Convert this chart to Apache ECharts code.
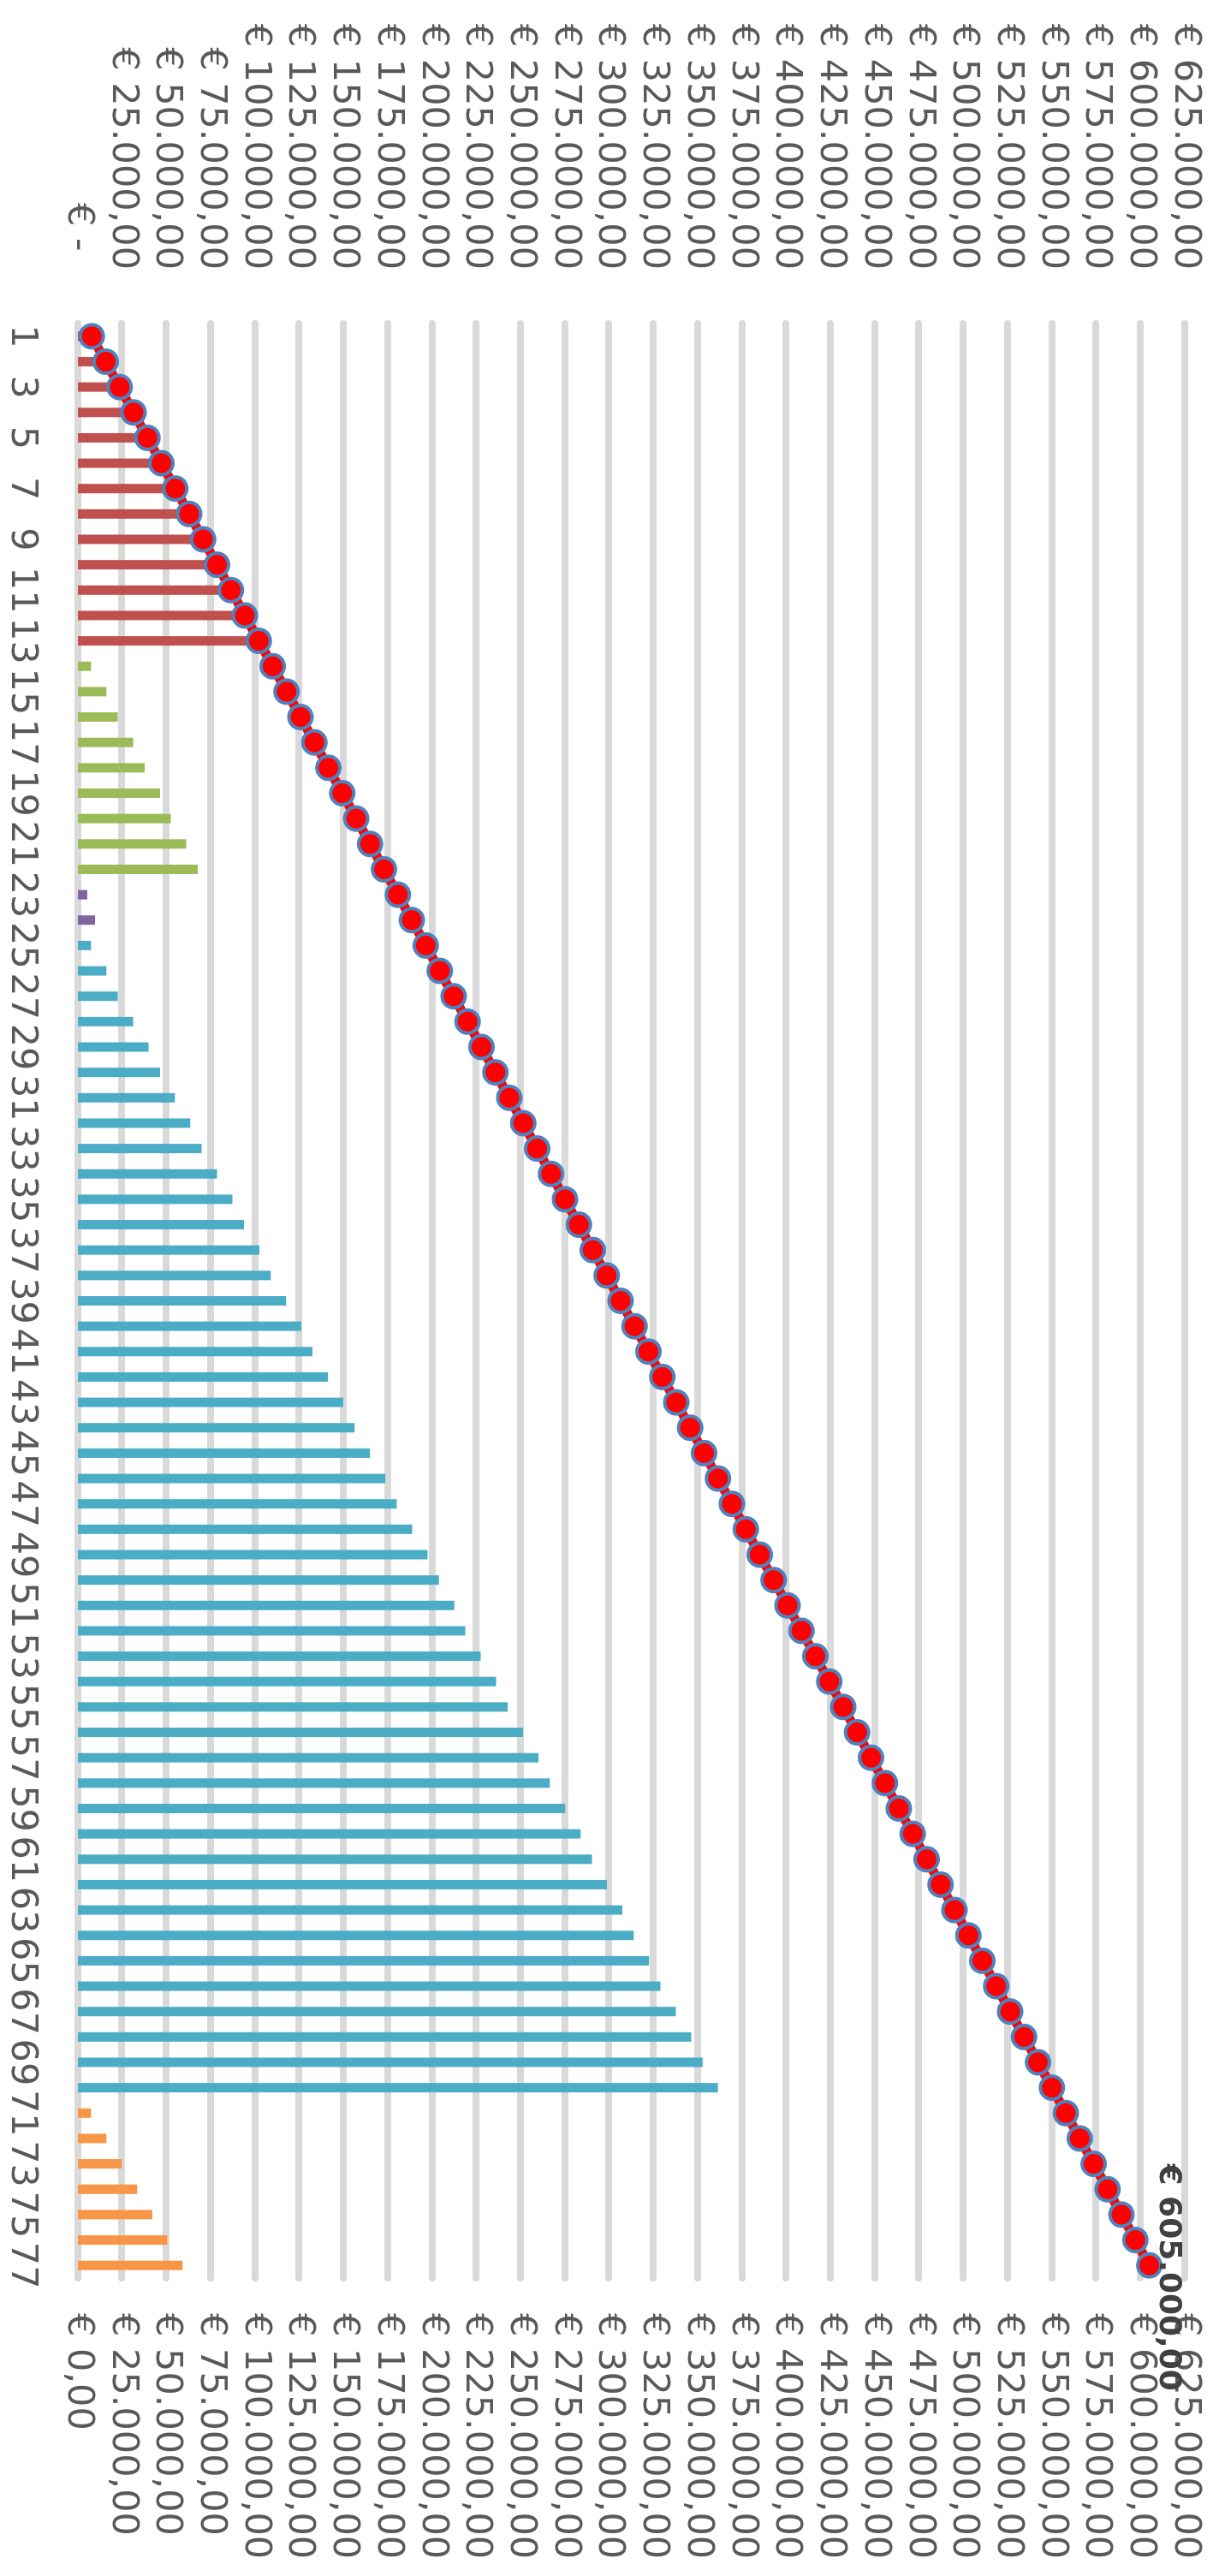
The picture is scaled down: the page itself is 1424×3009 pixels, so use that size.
<!DOCTYPE html>
<html>
<head>
<meta charset="utf-8">
<script src="https://cdn.jsdelivr.net/npm/echarts@6/dist/echarts.min.js"></script>
<style>
  html, body { margin: 0; padding: 0; width: 1424px; height: 3009px; overflow: hidden; background: #fff; }
  /* the chart is drawn landscape and turned a quarter clockwise */
  #chart {
    position: absolute; left: 0; top: 0;
    width: 3009px; height: 1424px;
    transform-origin: 0 0;
    transform: translate(1424px, 0) rotate(90deg);
  }
</style>
</head>
<body>
<div id="chart"></div>
<script>
// categories 1..77
const categories = ['1','2','3','4','5','6','7','8','9','10','11','12','13','14','15','16','17','18','19','20',
  '21','22','23','24','25','26','27','28','29','30','31','32','33','34','35','36','37','38','39','40',
  '41','42','43','44','45','46','47','48','49','50','51','52','53','54','55','56','57','58','59','60',
  '61','62','63','64','65','66','67','68','69','70','71','72','73','74','75','76','77'];

// bar groups, in category order
const redBars = [7400, 16100, 22500, 31200, 39900, 46400, 54800, 63500, 69900, 78600, 87300, 93800, 102500]; // 1-13
const greenBars = [7400, 16100, 22500, 31200, 37700, 46400, 52500, 61200, 67700]; // 14-22
const purpleBars = [5300, 9700]; // 23-24
const tealBars = [7400, 16100, 22500, 31200, 39900, 46400, 54800, 63500, 69900, 78600,
  87300, 93800, 102500, 108900, 117600, 126100, 132400, 141100, 149800, 156200,
  164900, 173600, 180100, 188800, 197500, 203900, 212600, 218700, 227400, 236100,
  242600, 251300, 260000, 266400, 275100, 283800, 290300, 298700, 307400, 313800,
  322500, 328900, 337600, 346300, 352800, 361500]; // 25-70
const orangeBars = [7400, 16100, 24800, 33500, 42000, 50400, 59100]; // 71-77

// running total line
const totalLine = [7857, 15714, 23571, 31429, 39286, 47143, 55000, 62857, 70714, 78571,
  86429, 94286, 102143, 110000, 117857, 125714, 133571, 141429, 149286, 157143,
  165000, 172857, 180714, 188571, 196429, 204286, 212143, 220000, 227857, 235714,
  243571, 251429, 259286, 267143, 275000, 282857, 290714, 298571, 306429, 314286,
  322143, 330000, 337857, 345714, 353571, 361429, 369286, 377143, 385000, 392857,
  400714, 408571, 416429, 424286, 432143, 440000, 447857, 455714, 463571, 471429,
  479286, 487143, 495000, 502857, 510714, 518571, 526429, 534286, 542143, 550000,
  557857, 565714, 573571, 581429, 589286, 597143, 605000];

const groups = [
  {data: redBars, color: '#C0504D'},
  {data: greenBars, color: '#9BBB59'},
  {data: purpleBars, color: '#8064A2'},
  {data: tealBars, color: '#4BACC6'},
  {data: orangeBars, color: '#F79646'}
];

let barData = [];
groups.forEach(g => {
  g.data.forEach(v => barData.push({value: v, itemStyle: {color: g.color}}));
});

// 625000 -> "625.000,00"
function money(v) {
  let parts = v.toFixed(2).split('.');
  let int = parts[0].replace(/\B(?=(\d{3})+(?!\d))/g, '.');
  return int + ',' + parts[1];
}

const font = 'DejaVu Sans';
const labelColor = '#595959';

let chart = echarts.init(document.getElementById('chart'));
chart.setOption({
  animation: false,
  backgroundColor: '#fff',
  grid: {left: 378, right: 348, top: 40, bottom: 91},
  xAxis: {
    type: 'category',
    data: categories,
    axisLine: {show: false},
    axisTick: {show: false},
    axisLabel: {
      interval: 1,
      margin: 44,
      fontSize: 43,
      fontFamily: font,
      color: labelColor
    }
  },
  yAxis: [
    {
      type: 'value',
      min: 0,
      max: 625000,
      interval: 25000,
      axisLine: {show: false},
      axisTick: {show: false},
      splitLine: {lineStyle: {color: '#D9D9D9', width: 8, cap: 'round'}},
      axisLabel: {
        margin: 63,
        fontSize: 43,
        fontFamily: font,
        color: labelColor,
        formatter: v => v === 0 ? '€ -\u2002' : '€ ' + money(v)
      }
    },
    {
      type: 'value',
      min: 0,
      max: 625000,
      interval: 25000,
      axisLine: {show: false},
      axisTick: {show: false},
      splitLine: {show: false},
      axisLabel: {
        margin: 41,
        fontSize: 43,
        fontFamily: font,
        color: labelColor,
        formatter: v => '€ ' + money(v)
      }
    }
  ],
  series: [
    {
      type: 'bar',
      data: barData,
      barWidth: 11
    },
    {
      type: 'line',
      yAxisIndex: 1,
      data: totalLine,
      symbol: 'circle',
      symbolSize: 27,
      showAllSymbol: true,
      lineStyle: {color: '#FF0000', width: 11},
      itemStyle: {color: '#FF0000', borderColor: '#4F81BD', borderWidth: 4},
      label: {
        show: true,
        position: 'top',
        distance: 1,
        offset: [14, 13],
        fontSize: 36,
        fontWeight: 'bold',
        fontFamily: font,
        color: '#404040',
        formatter: p => p.dataIndex === totalLine.length - 1 ? '€ ' + money(p.value) : ''
      }
    }
  ]
});
</script>
</body>
</html>
